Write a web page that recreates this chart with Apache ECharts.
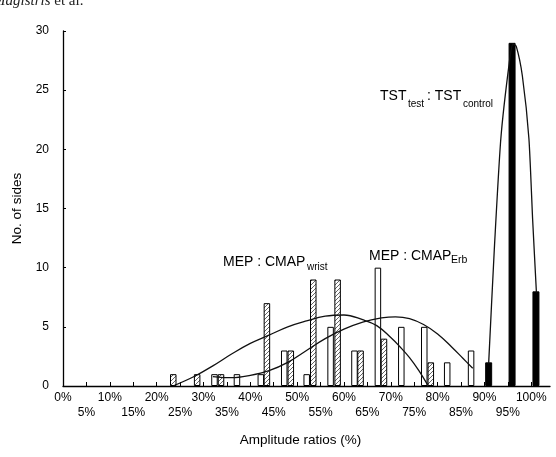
<!DOCTYPE html>
<html>
<head>
<meta charset="UTF-8">
<script src="https://cdn.jsdelivr.net/npm/echarts@6/dist/echarts.min.js"></script>
<style>
  body { margin: 0; background: #fff; }
  #root { width: 556px; height: 457px; }
</style>
</head>
<body>
<div id="root"></div>
<script>
// bar positions (amplitude ratio, %) and counts
var wristX = [23.6, 28.7, 33.8, 43.6, 48.7, 53.5, 58.7, 63.6, 68.6, 78.6];
var wristN = [1, 1, 1, 7, 3, 9, 9, 3, 4, 2];
var erbX = [32.4, 37.2, 42.3, 47.3, 52.1, 57.2, 62.3, 67.3, 72.3, 77.2, 82.1, 87.2];
var erbN = [1, 1, 1, 3, 1, 5, 3, 10, 5, 5, 2, 3];
var tstX = [90.9, 95.9, 101];
var tstN = [2, 29, 8];

// fitted curves, points
var wristCurveX = [23.5, 28, 32, 36, 40, 44, 48, 52, 56, 60, 64, 67, 70, 72, 74, 76, 78];
var wristCurveY = [0, 0.8, 1.7, 2.7, 3.6, 4.3, 5.0, 5.5, 5.9, 6.0, 5.6, 5.1, 4.1, 3.3, 2.4, 1.3, 0];
var erbCurveX = [32, 36, 40, 44, 48, 52, 56, 60, 64, 68, 71, 74, 77, 80, 83, 85.5, 87.5];
var erbCurveY = [0.8, 0.7, 0.9, 1.3, 2.0, 3.0, 4.0, 4.8, 5.4, 5.75, 5.85, 5.7, 5.2, 4.4, 3.3, 2.3, 1.5];
var tstCurveX = [90.9, 92.1, 93.5, 95.3, 96.1, 96.8, 98.1, 99.5, 100.3, 101.1];
var tstCurveY = [1.9, 11.5, 20.9, 27.3, 28.9, 28.7, 26.2, 20.9, 14, 7.9];

function pairs(xs, ys) {
  return xs.map(function (x, i) { return [x, ys[i]]; });
}

// diagonal hatch tile
var tile = document.createElement('canvas');
tile.width = 4;
tile.height = 4;
var pen = tile.getContext('2d');
pen.fillStyle = '#fff';
pen.fillRect(0, 0, 4, 4);
pen.strokeStyle = '#555';
pen.lineWidth = 0.9;
pen.beginPath();
pen.moveTo(0, 4); pen.lineTo(4, 0);
pen.moveTo(-1, 1); pen.lineTo(1, -1);
pen.moveTo(3, 5); pen.lineTo(5, 3);
pen.stroke();

var font = 'Liberation Sans, Arial, sans-serif';

function bars(data, fill, w) {
  return {
    type: 'bar',
    data: data,
    barWidth: w,
    barGap: '-100%',
    itemStyle: { color: fill, borderColor: '#000', borderWidth: 1 },
    silent: true,
    z: 2
  };
}

function curve(data, s) {
  return {
    type: 'line',
    data: data,
    smooth: s,
    showSymbol: false,
    lineStyle: { color: '#111', width: 1.3 },
    silent: true,
    z: 5
  };
}

var chart = echarts.init(document.getElementById('root'));

chart.setOption({
  animation: false,
  backgroundColor: '#fff',
  grid: { left: 63, top: 31, width: 487, height: 355 },
  xAxis: {
    type: 'value',
    min: 0,
    max: 104,
    interval: 5,
    splitLine: { show: false },
    axisLine: { lineStyle: { color: '#000', width: 1.3 } },
    axisTick: { inside: true, length: 4, lineStyle: { color: '#000' } },
    axisLabel: {
      color: '#000',
      fontFamily: font,
      fontSize: 12,
      lineHeight: 15,
      margin: 4,
      showMaxLabel: false,
      formatter: function (v) {
        if (v > 100) return '';
        return v % 10 === 0 ? v + '%' : '\n' + v + '%';
      }
    },
    name: 'Amplitude ratios (%)',
    nameLocation: 'middle',
    nameGap: 47,
    nameTextStyle: { color: '#000', fontFamily: font, fontSize: 13.5, padding: [0, 12, 0, 0] }
  },
  yAxis: {
    type: 'value',
    min: 0,
    max: 30,
    interval: 5,
    splitLine: { show: false },
    axisLine: { show: true, lineStyle: { color: '#000', width: 1.3 } },
    axisTick: { show: true, inside: true, length: 3, lineStyle: { color: '#000' } },
    axisLabel: { color: '#000', fontFamily: font, fontSize: 12, margin: 14 },
    name: 'No. of sides',
    nameLocation: 'middle',
    nameGap: 27,
    nameTextStyle: { color: '#000', fontFamily: font, fontSize: 13.5 }
  },
  series: [
    bars(pairs(erbX, erbN), '#fff', 6.5),
    bars(pairs(wristX, wristN), { image: tile, repeat: 'repeat' }, 6.5),
    bars(pairs(tstX, tstN), '#000', 7),
    curve(pairs(wristCurveX, wristCurveY), 0.4),
    curve(pairs(erbCurveX, erbCurveY), 0.4),
    curve(pairs(tstCurveX, tstCurveY), 0.2)
  ],
  graphic: [
    {
      type: 'text', left: -7, top: -6,
      style: {
        text: '{i|Magistris} et al.',
        font: '15px Liberation Serif, serif',
        fill: '#222',
        rich: { i: { fontStyle: 'italic', fontFamily: 'Liberation Serif, serif', fontSize: 15 } }
      }
    },
    { type: 'text', x: 223, y: 262, style: { text: 'MEP : CMAP', font: '14px ' + font, fill: '#000', verticalAlign: 'middle' } },
    { type: 'text', x: 307, y: 267, style: { text: 'wrist', font: '10px ' + font, fill: '#000', verticalAlign: 'middle' } },
    { type: 'text', x: 369, y: 256, style: { text: 'MEP : CMAP', font: '14px ' + font, fill: '#000', verticalAlign: 'middle' } },
    { type: 'text', x: 451, y: 260, style: { text: 'Erb', font: '10.5px ' + font, fill: '#000', verticalAlign: 'middle' } },
    { type: 'text', x: 380, y: 96, style: { text: 'TST', font: '14px ' + font, fill: '#000', verticalAlign: 'middle' } },
    { type: 'text', x: 408, y: 104, style: { text: 'test', font: '10px ' + font, fill: '#000', verticalAlign: 'middle' } },
    { type: 'text', x: 427, y: 96, style: { text: ': TST', font: '14px ' + font, fill: '#000', verticalAlign: 'middle' } },
    { type: 'text', x: 463, y: 104, style: { text: 'control', font: '10px ' + font, fill: '#000', verticalAlign: 'middle' } }
  ]
});
</script>
</body>
</html>
